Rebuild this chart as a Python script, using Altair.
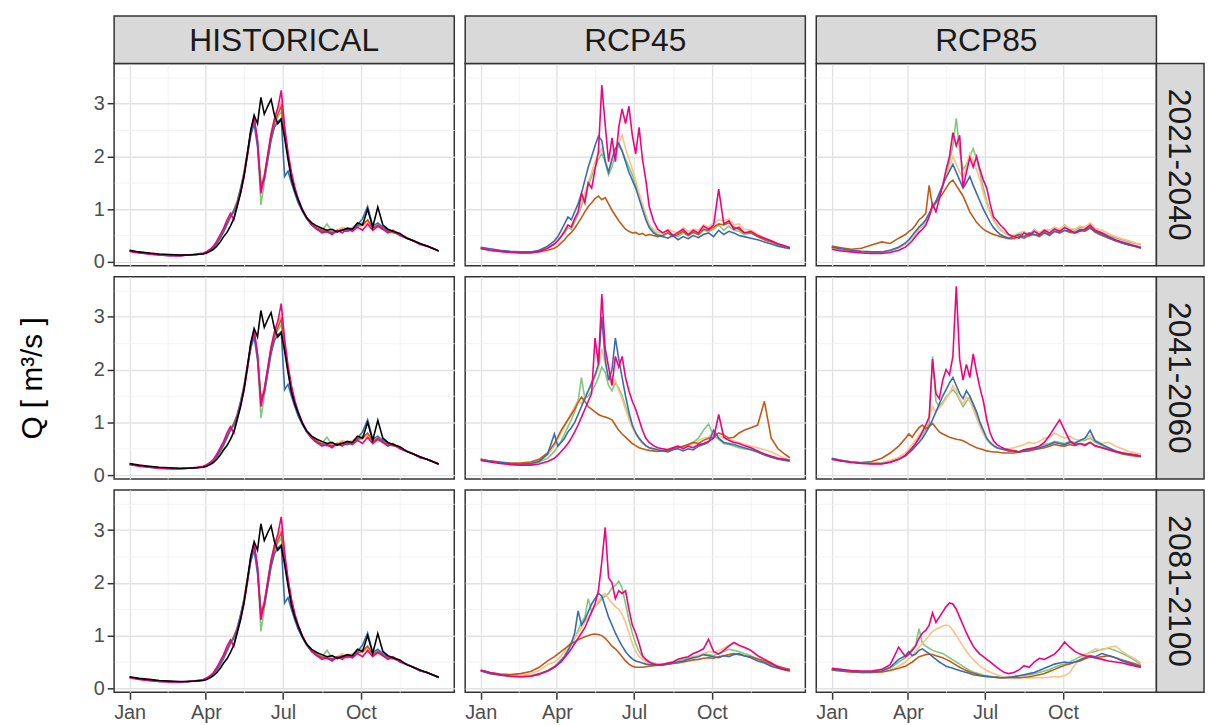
import altair as alt
import pandas as pd

FONT = "Liberation Sans"

SCENARIOS = ["HISTORICAL", "RCP45", "RCP85"]
PERIODS = ["2021-2040", "2041-2060", "2081-2100"]
SERIES = ["m1", "m2", "m3", "m4", "m5", "obs"]
COLORS = ["#7FC97F", "#FDC086", "#BF5B17", "#386CB0", "#F0027F", "#000000"]
Y_TITLE = "Q [ m³/s ]"

MONTH_LABELS = ["Jan", "Apr", "Jul", "Oct"]
MONTH_DAYS = [1, 91, 182, 274]
MINOR_DAYS = [46, 136.5, 228, 319.5]
Y_MAJOR = [0, 1, 2, 3]
Y_MINOR = [0.5, 1.5, 2.5, 3.5]

DAYS = [1, 12, 24, 36, 48, 60, 70, 80, 88,
        92, 96, 100, 104, 108, 112, 116, 120, 124, 128,
        132, 136, 140, 144, 148, 152, 156, 160, 164, 168,
        172, 176, 180, 184, 188, 192, 196, 200, 205, 210,
        216, 222, 228, 234, 240, 246, 252, 258, 264, 270,
        276, 282, 288, 294, 300, 306, 312, 320, 328, 336,
        344, 352, 360, 366]

# ---------------- HISTORICAL ----------------
HIST_OBS = [0.22, 0.19, 0.17, 0.15, 0.14, 0.13, 0.13, 0.14, 0.15,
            0.17, 0.20, 0.24, 0.30, 0.38, 0.48, 0.56, 0.68, 0.82, 1.05,
            1.30, 1.62, 2.05, 2.50, 2.78, 2.62, 3.12, 2.80, 2.95, 3.08,
            2.78, 2.62, 2.70, 2.35, 1.95, 1.58, 1.35, 1.18, 0.98, 0.84,
            0.74, 0.68, 0.64, 0.60, 0.62, 0.57, 0.60, 0.64, 0.62, 0.74,
            0.70, 1.00, 0.66, 1.04, 0.70, 0.62, 0.58, 0.54, 0.45, 0.40,
            0.35, 0.30, 0.25, 0.21]
HIST_PINK = [0.20, 0.17, 0.15, 0.13, 0.12, 0.12, 0.13, 0.15, 0.17,
             0.20, 0.24, 0.30, 0.40, 0.52, 0.64, 0.80, 0.92, 0.80, 1.08,
             1.32, 1.60, 2.00, 2.48, 2.75, 2.30, 1.30, 1.62, 2.02, 2.42,
             2.72, 2.92, 3.25, 2.58, 2.08, 1.70, 1.42, 1.20, 1.00, 0.84,
             0.70, 0.62, 0.55, 0.58, 0.52, 0.60, 0.55, 0.62, 0.58, 0.66,
             0.60, 0.72, 0.60, 0.68, 0.62, 0.55, 0.60, 0.50, 0.45, 0.40,
             0.33, 0.30, 0.25, 0.20]
HIST_BLUE = [0.21, 0.18, 0.15, 0.13, 0.12, 0.12, 0.13, 0.14, 0.16,
             0.19, 0.22, 0.28, 0.36, 0.46, 0.58, 0.72, 0.86, 0.95, 1.12,
             1.38, 1.66, 2.02, 2.40, 2.62, 2.18, 1.42, 1.56, 1.92, 2.30,
             2.55, 2.66, 2.72, 1.62, 1.72, 1.50, 1.30, 1.12, 0.96, 0.82,
             0.70, 0.62, 0.58, 0.56, 0.55, 0.58, 0.60, 0.58, 0.62, 0.70,
             0.82, 1.05, 0.68, 0.74, 0.66, 0.60, 0.58, 0.52, 0.46, 0.40,
             0.34, 0.30, 0.25, 0.21]
HIST_GREEN = [0.21, 0.18, 0.16, 0.14, 0.13, 0.12, 0.13, 0.14, 0.16,
              0.18, 0.22, 0.27, 0.34, 0.44, 0.56, 0.70, 0.84, 0.98, 1.15,
              1.40, 1.70, 2.08, 2.45, 2.70, 2.25, 1.08, 1.50, 1.95, 2.35,
              2.60, 2.75, 2.85, 2.40, 1.98, 1.62, 1.36, 1.15, 0.98, 0.83,
              0.72, 0.66, 0.60, 0.72, 0.58, 0.56, 0.62, 0.60, 0.64, 0.68,
              0.74, 0.78, 0.64, 0.70, 0.64, 0.58, 0.56, 0.52, 0.46, 0.40,
              0.34, 0.30, 0.25, 0.21]
HIST_ORANGE = [0.21, 0.18, 0.16, 0.14, 0.13, 0.12, 0.13, 0.14, 0.16,
               0.18, 0.22, 0.28, 0.35, 0.45, 0.57, 0.70, 0.85, 0.96, 1.12,
               1.36, 1.66, 2.05, 2.42, 2.68, 2.30, 1.50, 1.66, 2.05, 2.45,
               2.70, 2.85, 3.05, 2.50, 2.05, 1.66, 1.38, 1.16, 0.98, 0.83,
               0.72, 0.68, 0.62, 0.60, 0.58, 0.60, 0.66, 0.62, 0.66, 0.70,
               0.68, 0.76, 0.62, 0.66, 0.62, 0.56, 0.58, 0.52, 0.46, 0.40,
               0.34, 0.30, 0.25, 0.21]
HIST_BROWN = [0.21, 0.18, 0.16, 0.14, 0.13, 0.12, 0.13, 0.14, 0.16,
              0.18, 0.22, 0.28, 0.36, 0.46, 0.58, 0.72, 0.86, 0.98, 1.14,
              1.38, 1.68, 2.06, 2.44, 2.70, 2.28, 1.45, 1.60, 2.00, 2.40,
              2.64, 2.80, 2.95, 2.45, 2.02, 1.64, 1.36, 1.14, 0.97, 0.82,
              0.70, 0.64, 0.60, 0.58, 0.56, 0.58, 0.62, 0.60, 0.62, 0.68,
              0.70, 0.80, 0.64, 0.70, 0.62, 0.58, 0.56, 0.52, 0.46, 0.40,
              0.34, 0.30, 0.25, 0.21]

# ---------------- RCP45 2021-2040 ----------------
R45A_PINK = [0.26, 0.22, 0.20, 0.18, 0.17, 0.17, 0.20, 0.26, 0.34,
             0.40, 0.48, 0.58, 0.70, 0.66, 0.82, 0.95, 1.30, 1.12, 1.50,
             1.40, 1.75, 2.10, 3.35, 2.60, 1.90, 2.35, 1.90, 2.55, 2.90,
             2.62, 2.95, 2.40, 2.05, 2.55, 1.95, 1.55, 1.05, 0.78, 0.62,
             0.55, 0.60, 0.50, 0.56, 0.62, 0.52, 0.60, 0.55, 0.68, 0.62,
             0.70, 1.38, 0.72, 0.78, 0.62, 0.66, 0.55, 0.58, 0.50, 0.45,
             0.40, 0.34, 0.30, 0.27]
R45A_BLUE = [0.28, 0.25, 0.22, 0.20, 0.19, 0.19, 0.22, 0.30, 0.40,
             0.48, 0.60, 0.72, 0.85, 0.80, 0.95, 1.10, 1.30, 1.55, 1.80,
             2.00, 2.20, 2.38, 2.30, 1.90, 1.70, 1.95, 2.15, 2.25, 2.10,
             1.90, 1.70, 1.55, 1.40, 1.20, 1.00, 0.80, 0.65, 0.55, 0.50,
             0.48, 0.45, 0.50, 0.42, 0.48, 0.44, 0.50, 0.46, 0.52, 0.55,
             0.48, 0.60, 0.52, 0.58, 0.55, 0.50, 0.48, 0.45, 0.42, 0.38,
             0.34, 0.30, 0.27, 0.25]
R45A_GREEN = [0.27, 0.24, 0.21, 0.19, 0.18, 0.18, 0.21, 0.27, 0.34,
              0.40, 0.48, 0.55, 0.65, 0.62, 0.76, 0.90, 1.05, 1.25, 1.45,
              1.62, 1.80, 1.95, 2.05, 1.90, 1.65, 1.80, 2.05, 2.20, 2.10,
              1.95, 1.80, 1.65, 1.45, 1.25, 1.05, 0.85, 0.68, 0.58, 0.52,
              0.50, 0.55, 0.52, 0.48, 0.55, 0.50, 0.56, 0.52, 0.60, 0.58,
              0.62, 0.70, 0.60, 0.68, 0.60, 0.58, 0.52, 0.55, 0.48, 0.44,
              0.38, 0.33, 0.29, 0.26]
R45A_ORANGE = [0.27, 0.24, 0.21, 0.19, 0.18, 0.18, 0.21, 0.27, 0.35,
               0.42, 0.50, 0.60, 0.70, 0.68, 0.82, 0.95, 1.12, 1.32, 1.52,
               1.70, 1.90, 2.05, 2.15, 1.95, 1.72, 1.90, 2.10, 2.25, 2.40,
               2.15, 1.95, 1.75, 1.55, 1.30, 1.10, 0.90, 0.72, 0.62, 0.56,
               0.55, 0.62, 0.58, 0.55, 0.65, 0.58, 0.62, 0.60, 0.70, 0.66,
               0.74, 0.80, 0.78, 0.82, 0.70, 0.72, 0.62, 0.60, 0.52, 0.46,
               0.40, 0.35, 0.30, 0.27]
R45A_BROWN = [0.25, 0.22, 0.20, 0.19, 0.18, 0.18, 0.19, 0.22, 0.26,
              0.30, 0.36, 0.42, 0.50, 0.56, 0.64, 0.74, 0.84, 0.95, 1.05,
              1.12, 1.20, 1.25, 1.18, 1.22, 1.10, 0.98, 0.88, 0.78, 0.70,
              0.62, 0.58, 0.55, 0.56, 0.52, 0.54, 0.50, 0.52, 0.50, 0.48,
              0.50, 0.55, 0.48, 0.52, 0.58, 0.50, 0.56, 0.52, 0.62, 0.60,
              0.66, 0.72, 0.70, 0.74, 0.66, 0.62, 0.56, 0.55, 0.48, 0.42,
              0.38, 0.34, 0.30, 0.27]

# ---------------- RCP85 2021-2040 ----------------
R85A_PINK = [0.24, 0.21, 0.19, 0.17, 0.16, 0.16, 0.18, 0.22, 0.28,
             0.34, 0.40, 0.48, 0.56, 0.62, 0.70, 0.85, 1.10, 0.95, 1.20,
             1.45, 1.75, 2.00, 2.45, 2.20, 2.40, 1.40, 1.70, 1.98, 1.80,
             2.00, 1.75, 1.55, 1.40, 1.10, 0.85, 0.78, 0.70, 0.62, 0.52,
             0.48, 0.45, 0.55, 0.50, 0.58, 0.52, 0.60, 0.55, 0.62, 0.58,
             0.65, 0.60, 0.55, 0.58, 0.62, 0.70, 0.60, 0.55, 0.48, 0.42,
             0.38, 0.34, 0.30, 0.27]
R85A_BLUE = [0.28, 0.25, 0.22, 0.20, 0.19, 0.19, 0.22, 0.28, 0.36,
             0.42, 0.50, 0.58, 0.66, 0.72, 0.80, 0.92, 1.05, 1.15, 1.30,
             1.45, 1.60, 1.72, 1.85, 1.70, 1.55, 1.40, 1.50, 1.62, 1.45,
             1.30, 1.15, 1.00, 0.88, 0.75, 0.65, 0.58, 0.52, 0.48, 0.45,
             0.48, 0.52, 0.48, 0.55, 0.52, 0.50, 0.56, 0.52, 0.58, 0.55,
             0.60, 0.58, 0.56, 0.62, 0.60, 0.66, 0.58, 0.52, 0.46, 0.40,
             0.36, 0.32, 0.29, 0.26]
R85A_GREEN = [0.27, 0.24, 0.21, 0.19, 0.18, 0.18, 0.21, 0.27, 0.34,
              0.40, 0.46, 0.54, 0.62, 0.68, 0.76, 0.88, 1.00, 1.12, 1.28,
              1.45, 1.65, 1.90, 2.20, 2.72, 2.10, 1.75, 1.85, 2.00, 2.15,
              1.95, 1.70, 1.40, 1.15, 0.95, 0.80, 0.70, 0.62, 0.55, 0.50,
              0.48, 0.52, 0.55, 0.50, 0.62, 0.55, 0.58, 0.60, 0.64, 0.60,
              0.70, 0.62, 0.60, 0.66, 0.64, 0.68, 0.60, 0.56, 0.50, 0.46,
              0.42, 0.38, 0.35, 0.33]
R85A_ORANGE = [0.27, 0.24, 0.22, 0.20, 0.19, 0.19, 0.22, 0.28, 0.35,
               0.40, 0.46, 0.54, 0.62, 0.68, 0.78, 0.90, 1.02, 1.15, 1.30,
               1.45, 1.62, 1.80, 2.00, 1.85, 1.70, 1.60, 1.80, 2.05, 1.90,
               1.75, 1.55, 1.30, 1.10, 0.92, 0.78, 0.68, 0.60, 0.55, 0.50,
               0.50, 0.55, 0.58, 0.52, 0.60, 0.56, 0.62, 0.60, 0.66, 0.62,
               0.68, 0.64, 0.62, 0.68, 0.66, 0.74, 0.64, 0.60, 0.54, 0.48,
               0.44, 0.40, 0.36, 0.34]
R85A_BROWN = [0.30, 0.27, 0.24, 0.26, 0.32, 0.38, 0.35, 0.45, 0.52,
              0.58, 0.62, 0.70, 0.80, 0.85, 0.92, 1.45, 1.05, 1.12, 1.20,
              1.30, 1.40, 1.50, 1.55, 1.45, 1.35, 1.25, 1.10, 0.95, 0.85,
              0.75, 0.68, 0.62, 0.58, 0.55, 0.52, 0.50, 0.48, 0.46, 0.44,
              0.44, 0.48, 0.45, 0.50, 0.52, 0.48, 0.55, 0.50, 0.58, 0.55,
              0.60, 0.56, 0.55, 0.60, 0.58, 0.64, 0.56, 0.50, 0.45, 0.40,
              0.36, 0.32, 0.30, 0.28]

# ---------------- RCP45 2041-2060 ----------------
R45B_PINK = [0.28, 0.25, 0.22, 0.20, 0.19, 0.19, 0.21, 0.26, 0.32,
             0.38, 0.45, 0.52, 0.60, 0.70, 0.82, 0.95, 1.10, 1.25, 1.40,
             1.55, 2.60, 2.10, 3.43, 2.40, 2.05, 1.70, 2.25, 2.05, 2.25,
             1.85, 1.60, 1.40, 1.25, 1.05, 0.85, 0.70, 0.62, 0.56, 0.52,
             0.50, 0.48, 0.52, 0.55, 0.50, 0.55, 0.52, 0.58, 0.60, 0.64,
             0.70, 1.15, 0.72, 0.66, 0.62, 0.60, 0.56, 0.52, 0.46, 0.40,
             0.36, 0.32, 0.30, 0.28]
R45B_BLUE = [0.30, 0.27, 0.24, 0.22, 0.21, 0.22, 0.26, 0.40, 0.78,
             0.55, 0.62, 0.70, 0.82, 0.90, 1.00, 1.15, 1.30, 1.45, 1.60,
             1.75, 1.90, 2.10, 3.00, 2.20, 1.80, 2.00, 2.60, 2.20, 1.85,
             1.50, 1.20, 0.95, 0.80, 0.70, 0.62, 0.56, 0.52, 0.50, 0.48,
             0.46, 0.44, 0.48, 0.50, 0.46, 0.50, 0.48, 0.55, 0.58, 0.62,
             0.85, 0.70, 0.62, 0.60, 0.58, 0.55, 0.52, 0.48, 0.44, 0.38,
             0.34, 0.30, 0.28, 0.27]
R45B_GREEN = [0.29, 0.26, 0.23, 0.21, 0.20, 0.21, 0.25, 0.32, 0.45,
              0.55, 0.65, 0.78, 0.92, 1.05, 1.20, 1.40, 1.85, 1.45, 1.50,
              1.60, 1.70, 1.85, 2.05, 1.95, 1.70, 1.60, 1.75, 1.65, 1.50,
              1.30, 1.10, 0.92, 0.80, 0.70, 0.62, 0.56, 0.52, 0.50, 0.48,
              0.48, 0.46, 0.50, 0.52, 0.55, 0.58, 0.62, 0.70, 0.85, 0.97,
              0.75, 0.68, 0.60, 0.58, 0.55, 0.52, 0.50, 0.48, 0.44, 0.40,
              0.36, 0.32, 0.29, 0.27]
R45B_ORANGE = [0.29, 0.26, 0.23, 0.21, 0.21, 0.23, 0.28, 0.38, 0.55,
               0.68, 0.80, 0.92, 1.05, 1.18, 1.30, 1.42, 1.35, 1.50, 1.60,
               1.70, 1.85, 2.00, 2.40, 2.10, 1.85, 1.70, 1.80, 1.60, 1.45,
               1.25, 1.05, 0.90, 0.78, 0.68, 0.60, 0.55, 0.52, 0.50, 0.48,
               0.48, 0.50, 0.52, 0.55, 0.52, 0.56, 0.60, 0.66, 0.70, 0.72,
               0.80, 0.75, 0.70, 0.68, 0.65, 0.62, 0.58, 0.55, 0.52, 0.48,
               0.44, 0.38, 0.32, 0.28]
R45B_BROWN = [0.30, 0.27, 0.25, 0.23, 0.23, 0.25, 0.30, 0.42, 0.60,
              0.72, 0.85, 0.95, 1.05, 1.15, 1.25, 1.38, 1.48, 1.40, 1.30,
              1.25, 1.20, 1.15, 1.12, 1.10, 1.08, 1.05, 0.95, 0.85, 0.78,
              0.72, 0.66, 0.60, 0.56, 0.52, 0.50, 0.48, 0.47, 0.46, 0.45,
              0.46, 0.48, 0.50, 0.52, 0.55, 0.58, 0.62, 0.60, 0.66, 0.70,
              0.72, 0.80, 0.76, 0.70, 0.72, 0.80, 0.85, 0.90, 0.95, 1.40,
              0.70, 0.50, 0.40, 0.33]

# ---------------- RCP85 2041-2060 ----------------
R85B_PINK = [0.30, 0.27, 0.24, 0.22, 0.21, 0.21, 0.24, 0.30, 0.38,
             0.45, 0.52, 0.60, 0.70, 0.82, 0.95, 1.10, 2.20, 1.55, 1.45,
             1.80, 2.00, 1.90, 2.25, 3.58, 2.20, 1.80, 2.10, 1.85, 2.30,
             1.95, 1.65, 1.40, 1.05, 0.80, 0.65, 0.58, 0.54, 0.50, 0.48,
             0.46, 0.44, 0.48, 0.50, 0.52, 0.55, 0.62, 0.75, 0.90, 1.05,
             0.85, 0.65, 0.58, 0.60, 0.56, 0.62, 0.55, 0.52, 0.48, 0.45,
             0.42, 0.40, 0.38, 0.36]
R85B_BLUE = [0.32, 0.28, 0.25, 0.23, 0.22, 0.22, 0.25, 0.30, 0.36,
             0.42, 0.48, 0.55, 0.62, 0.70, 0.80, 0.92, 1.05, 1.20, 1.35,
             1.50, 1.62, 1.75, 1.85, 1.70, 1.55, 1.45, 1.60, 1.50, 1.35,
             1.20, 1.00, 0.85, 0.70, 0.62, 0.56, 0.52, 0.50, 0.48, 0.46,
             0.46, 0.44, 0.46, 0.48, 0.50, 0.52, 0.55, 0.58, 0.62, 0.60,
             0.58, 0.62, 0.60, 0.66, 0.70, 0.85, 0.65, 0.58, 0.52, 0.46,
             0.42, 0.40, 0.38, 0.36]
R85B_GREEN = [0.31, 0.28, 0.25, 0.23, 0.22, 0.22, 0.25, 0.30, 0.38,
              0.45, 0.52, 0.60, 0.68, 0.76, 0.86, 0.98, 2.25, 1.40, 1.30,
              1.38, 1.48, 1.55, 1.62, 1.55, 1.42, 1.30, 1.40, 1.48, 1.30,
              1.12, 0.95, 0.80, 0.68, 0.60, 0.55, 0.52, 0.50, 0.48, 0.46,
              0.46, 0.45, 0.48, 0.50, 0.52, 0.55, 0.58, 0.60, 0.64, 0.62,
              0.60, 0.64, 0.62, 0.65, 0.66, 0.70, 0.62, 0.56, 0.50, 0.46,
              0.42, 0.40, 0.38, 0.37]
R85B_ORANGE = [0.31, 0.28, 0.25, 0.23, 0.23, 0.24, 0.28, 0.34, 0.42,
               0.50, 0.58, 0.66, 0.75, 0.85, 0.95, 1.08, 1.30, 1.20, 1.28,
               1.35, 1.45, 1.55, 1.70, 1.60, 1.45, 1.35, 1.48, 1.40, 1.25,
               1.08, 0.92, 0.78, 0.68, 0.60, 0.55, 0.52, 0.50, 0.50, 0.50,
               0.52, 0.55, 0.58, 0.62, 0.60, 0.64, 0.70, 0.72, 0.80, 0.75,
               0.70, 0.74, 0.68, 0.66, 0.70, 0.75, 0.66, 0.60, 0.62, 0.55,
               0.50, 0.45, 0.42, 0.40]
R85B_BROWN = [0.30, 0.27, 0.25, 0.24, 0.26, 0.32, 0.42, 0.55, 0.70,
              0.78, 0.72, 0.82, 0.90, 0.95, 0.88, 0.92, 0.98, 0.90, 0.82,
              0.78, 0.75, 0.72, 0.70, 0.68, 0.67, 0.65, 0.62, 0.58, 0.55,
              0.52, 0.50, 0.48, 0.46, 0.45, 0.44, 0.44, 0.43, 0.42, 0.42,
              0.42, 0.44, 0.45, 0.46, 0.48, 0.50, 0.52, 0.55, 0.58, 0.56,
              0.55, 0.58, 0.56, 0.60, 0.58, 0.62, 0.56, 0.52, 0.48, 0.44,
              0.40, 0.38, 0.36, 0.35]

# ---------------- RCP45 2081-2100 ----------------
R45C_PINK = [0.35, 0.30, 0.26, 0.23, 0.22, 0.23, 0.27, 0.33, 0.40,
             0.45, 0.50, 0.58, 0.66, 0.75, 0.85, 0.95, 1.05, 1.15, 1.30,
             1.45, 1.60, 1.85, 2.40, 3.05, 2.10, 2.00, 1.70, 1.85, 1.80,
             1.85, 1.50, 1.20, 1.05, 0.85, 0.62, 0.55, 0.50, 0.46, 0.44,
             0.45, 0.48, 0.50, 0.55, 0.58, 0.60, 0.66, 0.70, 0.75, 0.93,
             0.70, 0.65, 0.72, 0.80, 0.87, 0.82, 0.78, 0.72, 0.62, 0.55,
             0.48, 0.40, 0.36, 0.34]
R45C_BLUE = [0.33, 0.28, 0.25, 0.23, 0.22, 0.23, 0.27, 0.33, 0.40,
             0.46, 0.52, 0.60, 0.72, 0.85, 1.05, 1.47, 1.20, 1.30, 1.45,
             1.60, 1.70, 1.80, 1.75, 1.55, 1.35, 1.20, 1.05, 0.92, 0.80,
             0.70, 0.62, 0.56, 0.52, 0.50, 0.48, 0.46, 0.45, 0.44, 0.44,
             0.45, 0.46, 0.48, 0.50, 0.52, 0.55, 0.58, 0.60, 0.64, 0.62,
             0.60, 0.58, 0.62, 0.60, 0.64, 0.66, 0.62, 0.58, 0.52, 0.48,
             0.42, 0.38, 0.35, 0.33]
R45C_GREEN = [0.34, 0.29, 0.26, 0.24, 0.23, 0.24, 0.28, 0.34, 0.42,
              0.48, 0.55, 0.62, 0.72, 0.82, 0.95, 1.10, 1.25, 1.35, 1.70,
              1.45, 1.55, 1.62, 1.70, 1.75, 1.80, 1.90, 1.95, 2.03, 1.90,
              1.60, 1.30, 1.05, 0.85, 0.70, 0.60, 0.54, 0.50, 0.48, 0.46,
              0.46, 0.48, 0.50, 0.52, 0.55, 0.58, 0.60, 0.62, 0.66, 0.64,
              0.62, 0.66, 0.70, 0.74, 0.72, 0.70, 0.66, 0.62, 0.55, 0.50,
              0.44, 0.40, 0.37, 0.35]
R45C_ORANGE = [0.34, 0.30, 0.27, 0.25, 0.25, 0.28, 0.34, 0.45, 0.50,
               0.55, 0.62, 0.70, 0.80, 0.88, 0.95, 1.05, 1.15, 1.25, 1.35,
               1.45, 1.55, 1.65, 1.75, 1.80, 1.70, 1.62, 1.55, 1.50, 1.40,
               1.25, 1.05, 0.85, 0.70, 0.60, 0.55, 0.50, 0.47, 0.45, 0.44,
               0.44, 0.46, 0.48, 0.50, 0.52, 0.55, 0.58, 0.62, 0.66, 0.70,
               0.68, 0.72, 0.76, 0.82, 0.86, 0.80, 0.78, 0.72, 0.62, 0.55,
               0.48, 0.42, 0.38, 0.35]
R45C_BROWN = [0.34, 0.30, 0.27, 0.26, 0.28, 0.32, 0.40, 0.52, 0.60,
              0.65, 0.70, 0.75, 0.80, 0.85, 0.88, 0.92, 0.95, 0.98, 1.00,
              1.02, 1.03, 1.02, 1.00, 0.95, 0.88, 0.80, 0.75, 0.68, 0.60,
              0.52, 0.46, 0.42, 0.40, 0.40, 0.40, 0.41, 0.42, 0.43, 0.44,
              0.45, 0.46, 0.47, 0.48, 0.50, 0.52, 0.54, 0.55, 0.57, 0.58,
              0.57, 0.60, 0.62, 0.64, 0.66, 0.64, 0.62, 0.60, 0.56, 0.52,
              0.46, 0.42, 0.38, 0.36]

# ---------------- RCP85 2081-2100 ----------------
R85C_PINK = [0.38, 0.36, 0.34, 0.33, 0.33, 0.36, 0.45, 0.78, 0.60,
             0.65, 0.72, 0.80, 0.95, 1.05, 1.10, 1.20, 1.43, 1.25, 1.35,
             1.45, 1.55, 1.62, 1.60, 1.50, 1.35, 1.20, 1.05, 0.92, 0.80,
             0.72, 0.65, 0.60, 0.55, 0.50, 0.45, 0.40, 0.35, 0.30, 0.28,
             0.30, 0.35, 0.43, 0.40, 0.50, 0.57, 0.55, 0.60, 0.65, 0.75,
             0.88, 0.78, 0.70, 0.65, 0.62, 0.60, 0.58, 0.55, 0.52, 0.50,
             0.48, 0.45, 0.42, 0.40]
R85C_BLUE = [0.36, 0.34, 0.32, 0.31, 0.31, 0.33, 0.40, 0.55, 0.62,
             0.70, 0.62, 0.65, 0.72, 0.75, 0.70, 0.66, 0.60, 0.55, 0.50,
             0.46, 0.42, 0.40, 0.38, 0.36, 0.34, 0.32, 0.30, 0.28, 0.26,
             0.25, 0.24, 0.23, 0.22, 0.22, 0.21, 0.21, 0.20, 0.20, 0.21,
             0.22, 0.24, 0.26, 0.28, 0.30, 0.34, 0.38, 0.42, 0.46, 0.48,
             0.50, 0.48, 0.50, 0.54, 0.58, 0.62, 0.60, 0.66, 0.62, 0.58,
             0.52, 0.48, 0.44, 0.40]
R85C_GREEN = [0.35, 0.33, 0.31, 0.30, 0.30, 0.32, 0.38, 0.50, 0.58,
              0.65, 0.75, 0.82, 1.13, 0.85, 0.80, 0.76, 0.72, 0.70, 0.68,
              0.66, 0.62, 0.58, 0.54, 0.50, 0.46, 0.42, 0.38, 0.34, 0.31,
              0.29, 0.27, 0.25, 0.24, 0.23, 0.22, 0.22, 0.21, 0.21, 0.22,
              0.23, 0.24, 0.25, 0.26, 0.28, 0.30, 0.33, 0.36, 0.40, 0.44,
              0.46, 0.50, 0.55, 0.60, 0.64, 0.68, 0.70, 0.74, 0.76, 0.72,
              0.66, 0.60, 0.52, 0.44]
R85C_ORANGE = [0.35, 0.33, 0.31, 0.30, 0.30, 0.31, 0.35, 0.42, 0.50,
               0.56, 0.62, 0.70, 0.78, 0.85, 0.92, 1.00, 1.08, 1.12, 1.15,
               1.18, 1.20, 1.18, 1.10, 1.00, 0.90, 0.80, 0.70, 0.62, 0.55,
               0.48, 0.42, 0.38, 0.34, 0.31, 0.28, 0.26, 0.24, 0.22, 0.21,
               0.20, 0.20, 0.20, 0.20, 0.20, 0.20, 0.20, 0.21, 0.22, 0.22,
               0.24, 0.30, 0.45, 0.55, 0.62, 0.68, 0.75, 0.72, 0.78, 0.80,
               0.70, 0.62, 0.55, 0.48]
R85C_BROWN = [0.35, 0.33, 0.31, 0.30, 0.30, 0.31, 0.34, 0.38, 0.42,
              0.46, 0.50, 0.55, 0.60, 0.62, 0.64, 0.65, 0.64, 0.62, 0.60,
              0.58, 0.55, 0.52, 0.48, 0.44, 0.40, 0.37, 0.34, 0.31, 0.29,
              0.27, 0.25, 0.24, 0.23, 0.22, 0.21, 0.20, 0.20, 0.20, 0.20,
              0.20, 0.20, 0.21, 0.22, 0.24, 0.26, 0.28, 0.32, 0.36, 0.40,
              0.44, 0.46, 0.50, 0.52, 0.56, 0.60, 0.58, 0.60, 0.62, 0.58,
              0.54, 0.50, 0.46, 0.42]

HIST = {"m1": HIST_GREEN, "m2": HIST_ORANGE, "m3": HIST_BROWN,
        "m4": HIST_BLUE, "m5": HIST_PINK, "obs": HIST_OBS}
PROJ = {
    ("RCP45", "2021-2040"): {"m1": R45A_GREEN, "m2": R45A_ORANGE, "m3": R45A_BROWN, "m4": R45A_BLUE, "m5": R45A_PINK},
    ("RCP85", "2021-2040"): {"m1": R85A_GREEN, "m2": R85A_ORANGE, "m3": R85A_BROWN, "m4": R85A_BLUE, "m5": R85A_PINK},
    ("RCP45", "2041-2060"): {"m1": R45B_GREEN, "m2": R45B_ORANGE, "m3": R45B_BROWN, "m4": R45B_BLUE, "m5": R45B_PINK},
    ("RCP85", "2041-2060"): {"m1": R85B_GREEN, "m2": R85B_ORANGE, "m3": R85B_BROWN, "m4": R85B_BLUE, "m5": R85B_PINK},
    ("RCP45", "2081-2100"): {"m1": R45C_GREEN, "m2": R45C_ORANGE, "m3": R45C_BROWN, "m4": R45C_BLUE, "m5": R45C_PINK},
    ("RCP85", "2081-2100"): {"m1": R85C_GREEN, "m2": R85C_ORANGE, "m3": R85C_BROWN, "m4": R85C_BLUE, "m5": R85C_PINK},
}

# ---------------- layout constants ----------------
W, H = 343, 204
STRIP = 48
XDOM = [-17.3, 384.3]
YDOM = [-0.074, 3.76]
GRID_MAJOR = "#E2E2E2"
GRID_MINOR = "#F0F0F0"


def frame(series_map):
    rows = []
    for s in SERIES:
        if s not in series_map:
            continue
        for d, q in zip(DAYS, series_map[s]):
            rows.append({"day": d, "q": q, "series": s})
    return pd.DataFrame(rows)


MAJX = "indexof([" + ",".join(str(v) for v in MONTH_DAYS) + "], datum.value) >= 0"
MAJY = "datum.value % 1 == 0"
XLABEL_EXPR = "".join(
    f"datum.value == {d} ? '{lab}' : " for d, lab in zip(MONTH_DAYS, MONTH_LABELS)
) + "''"


def cond(test, yes, no):
    return {"condition": {"test": test, "value": yes}, "value": no}


def x_axis(show):
    common = dict(
        values=MONTH_DAYS + MINOR_DAYS, title=None, domain=False, grid=True,
        gridColor=cond(MAJX, GRID_MAJOR, GRID_MINOR),
        gridWidth=cond(MAJX, 1.4, 0.8),
    )
    if show:
        return alt.Axis(
            labelExpr=XLABEL_EXPR, ticks=True, tickSize=7, tickWidth=1.5,
            tickColor="#333333", tickOpacity=cond(MAJX, 1, 0),
            labelFontSize=20, labelColor="#4D4D4D", labelFont=FONT,
            labelPadding=3, labelFlush=False, labelOverlap=False, **common)
    return alt.Axis(labels=False, ticks=False, **common)


def y_axis(show, title_visible):
    common = dict(
        values=Y_MAJOR + Y_MINOR, domain=False, grid=True,
        gridColor=cond(MAJY, GRID_MAJOR, GRID_MINOR),
        gridWidth=cond(MAJY, 1.4, 0.8),
    )
    if show:
        if title_visible:
            extra = dict(title=Y_TITLE, titleFontSize=30, titleFont=FONT,
                         titleFontWeight="normal", titleColor="#000000",
                         titlePadding=46)
        else:
            extra = dict(title=None)
        return alt.Axis(
            labelExpr="datum.value % 1 == 0 ? format(datum.value, 'd') : ''",
            ticks=True, tickSize=7, tickWidth=1.5, tickColor="#333333",
            tickOpacity=cond(MAJY, 1, 0),
            labelFontSize=20, labelColor="#4D4D4D", labelFont=FONT,
            labelPadding=3, labelFlush=False, labelOverlap=False,
            **extra, **common)
    return alt.Axis(title=None, labels=False, ticks=False, **common)


def top_strip(label):
    d = pd.DataFrame({"label": [label]})
    rect = alt.Chart(d).mark_rect(fill="#D9D9D9", stroke="#333333", strokeWidth=1.5).encode(
        x=alt.value(0), x2=alt.value(W), y=alt.value(-STRIP), y2=alt.value(0))
    text = alt.Chart(d).mark_text(fontSize=32, font=FONT, color="#1A1A1A",
                                  align="center", baseline="middle").encode(
        x=alt.value(W / 2), y=alt.value(-STRIP / 2 + 1), text="label:N")
    return [rect, text]


def right_strip(label):
    d = pd.DataFrame({"label": [label]})
    rect = alt.Chart(d).mark_rect(fill="#D9D9D9", stroke="#333333", strokeWidth=1.5).encode(
        x=alt.value(W), x2=alt.value(W + STRIP), y=alt.value(0), y2=alt.value(H))
    text = alt.Chart(d).mark_text(fontSize=32, font=FONT, color="#1A1A1A",
                                  align="center", baseline="middle", angle=90).encode(
        x=alt.value(W + STRIP / 2 - 1), y=alt.value(H / 2), text="label:N")
    return [rect, text]


def panel(ri, ci):
    scn = SCENARIOS[ci]
    per = PERIODS[ri]
    smap = HIST if scn == "HISTORICAL" else PROJ[(scn, per)]
    df = frame(smap)
    lines = alt.Chart(df).mark_line(strokeWidth=1.6).encode(
        x=alt.X("day:Q", scale=alt.Scale(domain=XDOM, nice=False, zero=False),
                axis=x_axis(ri == len(PERIODS) - 1)),
        y=alt.Y("q:Q", scale=alt.Scale(domain=YDOM, nice=False, zero=False),
                axis=y_axis(ci == 0, ri == 1)),
        color=alt.Color("series:N", scale=alt.Scale(domain=SERIES, range=COLORS), legend=None),
    )
    layers = [lines]
    if ri == 0:
        layers += top_strip(scn)
    if ci == len(SCENARIOS) - 1:
        layers += right_strip(per)
    return alt.layer(*layers).properties(width=W, height=H)


panels = [panel(ri, ci) for ri in range(len(PERIODS)) for ci in range(len(SCENARIOS))]

chart = alt.concat(*panels, columns=3, spacing=11, bounds="flush").properties(
    padding={"left": 9, "top": 3, "right": 0, "bottom": 0},
    background="white",
).configure_view(stroke="#333333", strokeWidth=1.5)

chart.save("out.html", embed_options={"renderer": "svg", "actions": False})
